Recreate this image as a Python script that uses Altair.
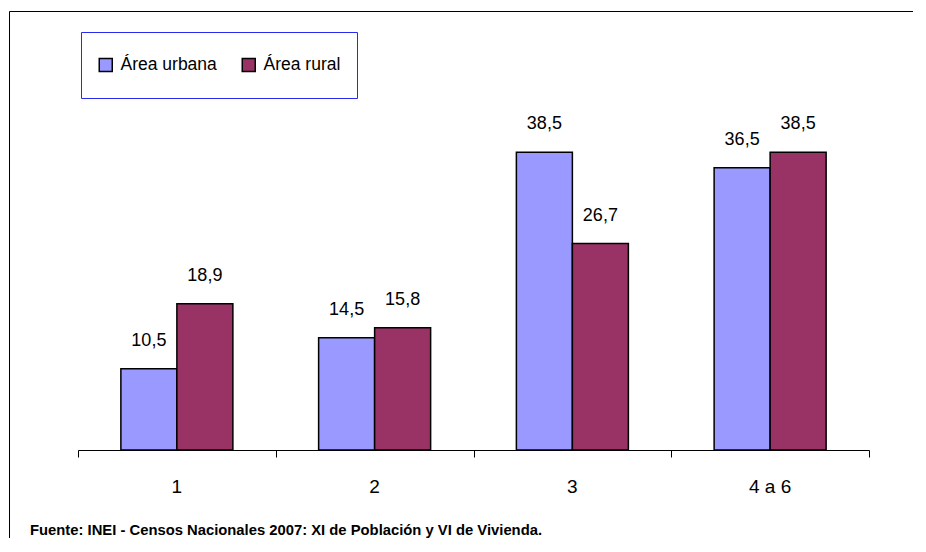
import altair as alt
import pandas as pd

categories = ["1", "2", "3", "4 a 6"]
series = ["Área urbana", "Área rural"]
urbana = [10.5, 14.5, 38.5, 36.5]
rural = [18.9, 15.8, 26.7, 38.5]
colors = ["#9999FF", "#993366"]
footer = ["Fuente: INEI - Censos Nacionales 2007: XI de Población y VI de Vivienda."]
tick_positions = [0, 1, 2, 3, 4]

rows = []
for i, c in enumerate(categories):
    for s, vals in zip(series, [urbana, rural]):
        rows.append({"cat": c, "series": s, "value": vals[i],
                     "label": f"{vals[i]:.1f}".replace(".", ",")})
df = pd.DataFrame(rows)

FONT = "Liberation Sans"
W = 904
H = 527
XR = [69, 860]
YR = [439, 91]
AX_OFF = YR[0] - H

xscale = alt.Scale(range=XR, paddingInner=0.4336, paddingOuter=0.2168)
xband = alt.X("cat:N", sort=categories, scale=xscale,
              axis=alt.Axis(orient="bottom", title=None, domain=False, ticks=False,
                            labelAngle=0, labelFontSize=19, labelFont=FONT,
                            labelColor="black", labelPadding=36, labelBaseline="middle",
                            offset=AX_OFF, grid=False))
xoff = alt.XOffset("series:N", sort=series, scale=alt.Scale(paddingInner=0, paddingOuter=0))
yenc = alt.Y("value:Q", scale=alt.Scale(domain=[0, 45], range=YR), axis=None)

base = alt.Chart(df)
bars = base.mark_bar(stroke="black", strokeWidth=1.5).encode(
    x=xband, xOffset=xoff, y=yenc,
    color=alt.Color("series:N", sort=series,
                    scale=alt.Scale(domain=series, range=colors),
                    legend=alt.Legend(title=None, orient="none", legendX=72, legendY=21,
                                      direction="horizontal", columns=2,
                                      padding=16, strokeColor="#2a2aee",
                                      symbolType="square", symbolSize=169,
                                      symbolStrokeColor="black", symbolStrokeWidth=1.5,
                                      symbolOpacity=1,
                                      labelFontSize=17.5, labelFont=FONT, labelColor="black",
                                      labelOffset=6, columnPadding=23, clipHeight=34)),
)
labels = base.mark_text(fontSize=18, font=FONT, color="black", baseline="alphabetic",
                        dy=-23).encode(x=xband, xOffset=xoff, y=yenc, text="label:N")

inner = alt.layer(bars, labels)

ticks_df = pd.DataFrame({"b": tick_positions})
ticks = alt.Chart(ticks_df).mark_point(opacity=0).encode(
    x=alt.X("b:Q", scale=alt.Scale(domain=[0, 4], range=XR, nice=False, zero=False),
            axis=alt.Axis(orient="bottom", title=None, values=tick_positions, labels=False,
                          tickSize=7, tickColor="black", domainColor="black",
                          domainWidth=1, tickWidth=1, grid=False, offset=AX_OFF)))

frame_df = pd.DataFrame({"fx": [0, 1], "fy": [0, 1]})
frame = alt.Chart(frame_df).mark_point(opacity=0).encode(
    x=alt.X("fx:Q", scale=alt.Scale(domain=[0, 1], range=[0, W + 20], nice=False, zero=False),
            axis=alt.Axis(orient="top", title=None, labels=False, ticks=False, grid=False,
                          domainColor="black", domainWidth=1)),
    y=alt.Y("fy:Q", scale=alt.Scale(domain=[0, 1], range=[0, H + 20], nice=False, zero=False),
            axis=alt.Axis(orient="left", title=None, labels=False, ticks=False, grid=False,
                          domainColor="black", domainWidth=1)),
)

foot = alt.Chart(pd.DataFrame({"t": footer})).mark_text(
    align="left", baseline="middle", fontSize=14.8, fontWeight="bold", font=FONT,
    color="black").encode(x=alt.value(21), y=alt.value(520), text="t:N")

chart = alt.layer(inner, ticks, frame, foot).resolve_scale(
    x="independent", y="independent").properties(
    width=W, height=H,
    autosize=alt.AutoSizeParams(type="none"),
    padding={"left": 1, "top": 3, "right": 0, "bottom": 0},
).configure_view(stroke=None).configure(background="white")

chart.save("out.html", embed_options={"renderer": "svg", "actions": False})
